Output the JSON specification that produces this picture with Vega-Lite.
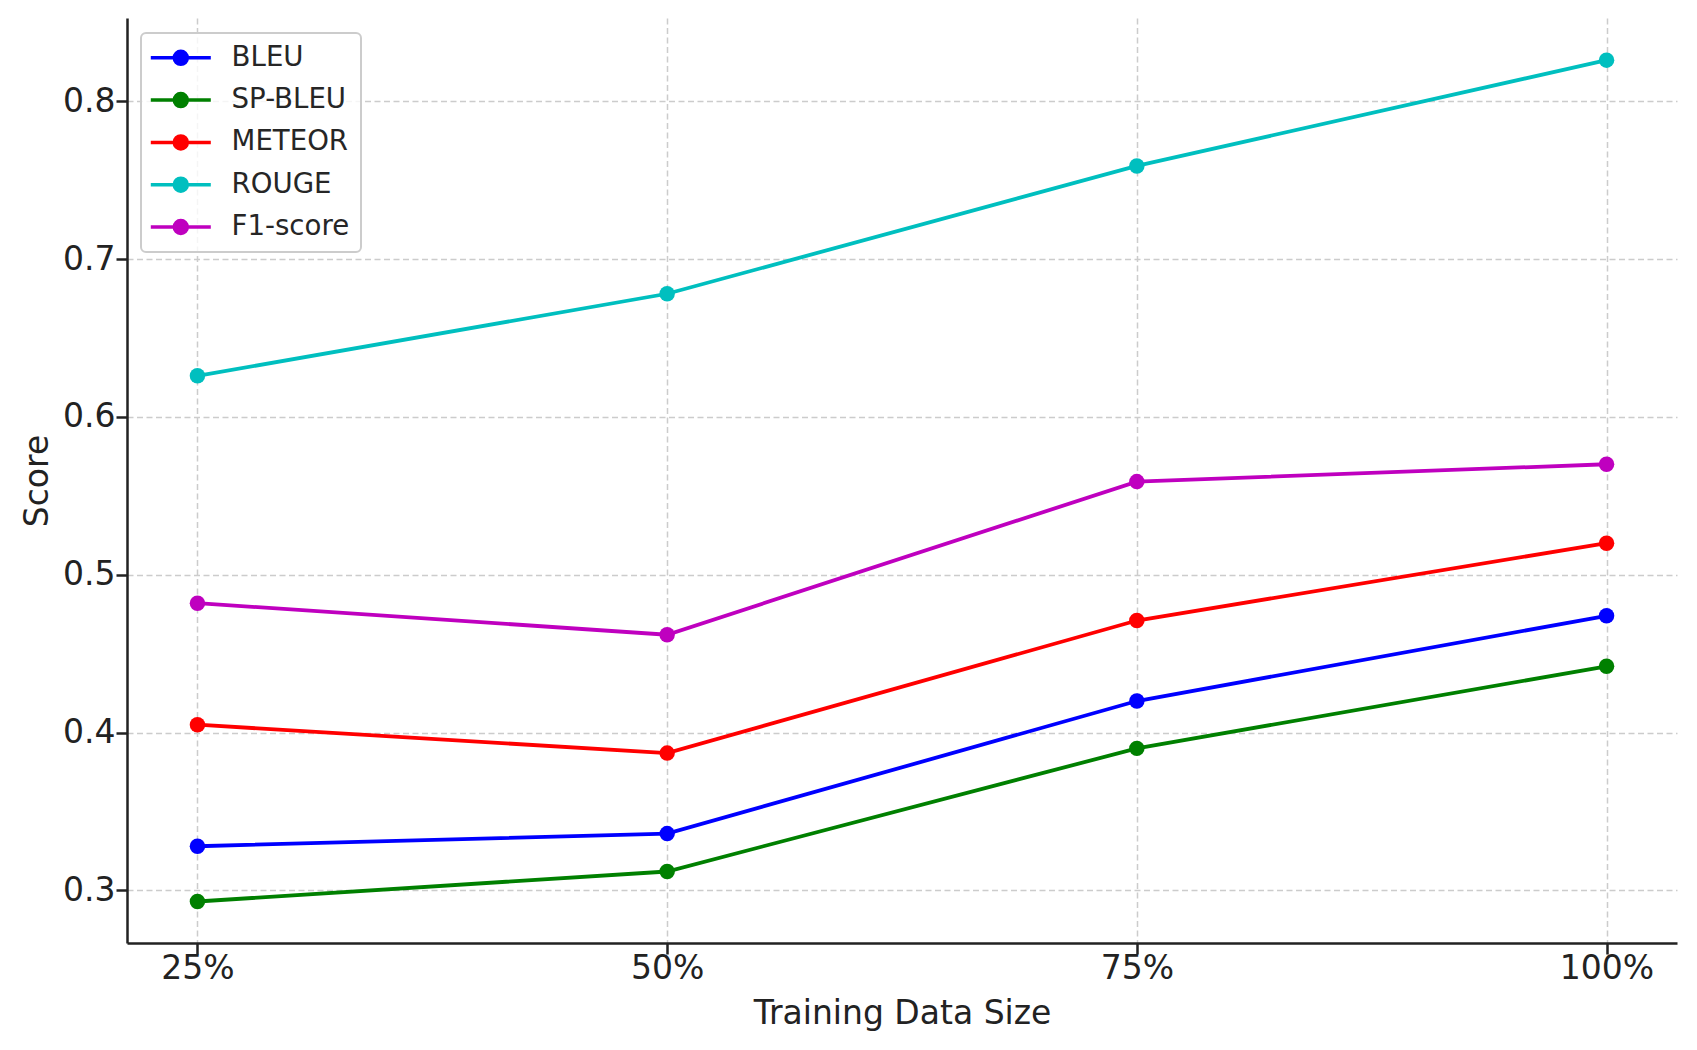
{
  "$schema": "https://vega.github.io/schema/vega-lite/v6.json",
  "width": 1550,
  "height": 925,
  "autosize": {"type": "none"},
  "padding": {"left": 127, "top": 18, "right": 20, "bottom": 107},
  "background": "white",
  "config": {
    "font": "DejaVu Sans",
    "view": {"stroke": null},
    "axis": {
      "labelFont": "DejaVu Sans",
      "titleFont": "DejaVu Sans",
      "labelFontSize": 33,
      "titleFontSize": 33,
      "titleFontWeight": "normal",
      "labelColor": "#222222",
      "titleColor": "#222222",
      "domainColor": "#222222",
      "domainWidth": 2.5,
      "ticks": true,
      "tickColor": "#222222",
      "tickWidth": 2.5,
      "tickSize": 11,
      "gridColor": "#cccccc",
      "gridWidth": 1.5,
      "gridDash": [6, 3.5]
    }
  },
  "data": {
    "values": [
      {"size": "25%", "metric": "BLEU", "score": 0.328},
      {"size": "50%", "metric": "BLEU", "score": 0.336},
      {"size": "75%", "metric": "BLEU", "score": 0.420},
      {"size": "100%", "metric": "BLEU", "score": 0.474},
      {"size": "25%", "metric": "SP-BLEU", "score": 0.293},
      {"size": "50%", "metric": "SP-BLEU", "score": 0.312},
      {"size": "75%", "metric": "SP-BLEU", "score": 0.390},
      {"size": "100%", "metric": "SP-BLEU", "score": 0.442},
      {"size": "25%", "metric": "METEOR", "score": 0.405},
      {"size": "50%", "metric": "METEOR", "score": 0.387},
      {"size": "75%", "metric": "METEOR", "score": 0.471},
      {"size": "100%", "metric": "METEOR", "score": 0.520},
      {"size": "25%", "metric": "ROUGE", "score": 0.626},
      {"size": "50%", "metric": "ROUGE", "score": 0.678},
      {"size": "75%", "metric": "ROUGE", "score": 0.759},
      {"size": "100%", "metric": "ROUGE", "score": 0.826},
      {"size": "25%", "metric": "F1-score", "score": 0.482},
      {"size": "50%", "metric": "F1-score", "score": 0.462},
      {"size": "75%", "metric": "F1-score", "score": 0.559},
      {"size": "100%", "metric": "F1-score", "score": 0.570}
    ]
  },
  "encoding": {
    "x": {
      "field": "size",
      "type": "ordinal",
      "sort": ["25%", "50%", "75%", "100%"],
      "scale": {"type": "point", "padding": 0.15},
      "axis": {
        "title": "Training Data Size",
        "labelAngle": 0,
        "labelPadding": -2,
        "titlePadding": 12,
        "grid": true,
        "encode": {"ticks": {"update": {"y2": {"value": -11}}}}
      }
    },
    "y": {
      "field": "score",
      "type": "quantitative",
      "scale": {"domain": [0.2667, 0.8527], "nice": false, "zero": false},
      "axis": {
        "title": "Score",
        "values": [0.3, 0.4, 0.5, 0.6, 0.7, 0.8],
        "format": ".1f",
        "labelPadding": 1,
        "titlePadding": 8,
        "grid": true,
        "encode": {"ticks": {"update": {"x2": {"value": 11}}}}
      }
    },
    "color": {
      "field": "metric",
      "type": "nominal",
      "scale": {
        "domain": ["BLEU", "SP-BLEU", "METEOR", "ROUGE", "F1-score"],
        "range": ["#0000ff", "#008000", "#ff0000", "#00bfbf", "#bf00bf"]
      },
      "legend": {
        "title": null,
        "orient": "none",
        "legendX": 14,
        "legendY": 15,
        "symbolType": "M-1.5,0L4.5,0M0.85,0A0.65,0.65,0,1,0,2.15,0A0.65,0.65,0,1,0,0.85,0Z",
        "symbolSize": 400,
        "symbolStrokeWidth": 3.5,
        "symbolOpacity": 1,
        "labelFont": "DejaVu Sans",
        "labelFontSize": 27.6,
        "labelColor": "#262626",
        "labelOffset": 52,
        "rowPadding": 13.3,
        "padding": 11,
        "fillColor": "rgba(255,255,255,0.8)",
        "strokeColor": "#cccccc",
        "cornerRadius": 5,
        "encode": {
          "symbols": {
            "update": {
              "fill": {"signal": "scale('color', datum.value)"},
              "stroke": {"signal": "scale('color', datum.value)"},
              "fillOpacity": {"value": 1},
              "strokeWidth": {"value": 3.5}
            }
          },
          "legend": {
            "update": {"strokeWidth": {"value": 2}}
          }
        }
      }
    }
  },
  "layer": [
    {"mark": {"type": "line", "strokeWidth": 3.8}},
    {"mark": {"type": "point", "filled": true, "opacity": 1, "size": 240, "shape": "circle"}}
  ]
}
